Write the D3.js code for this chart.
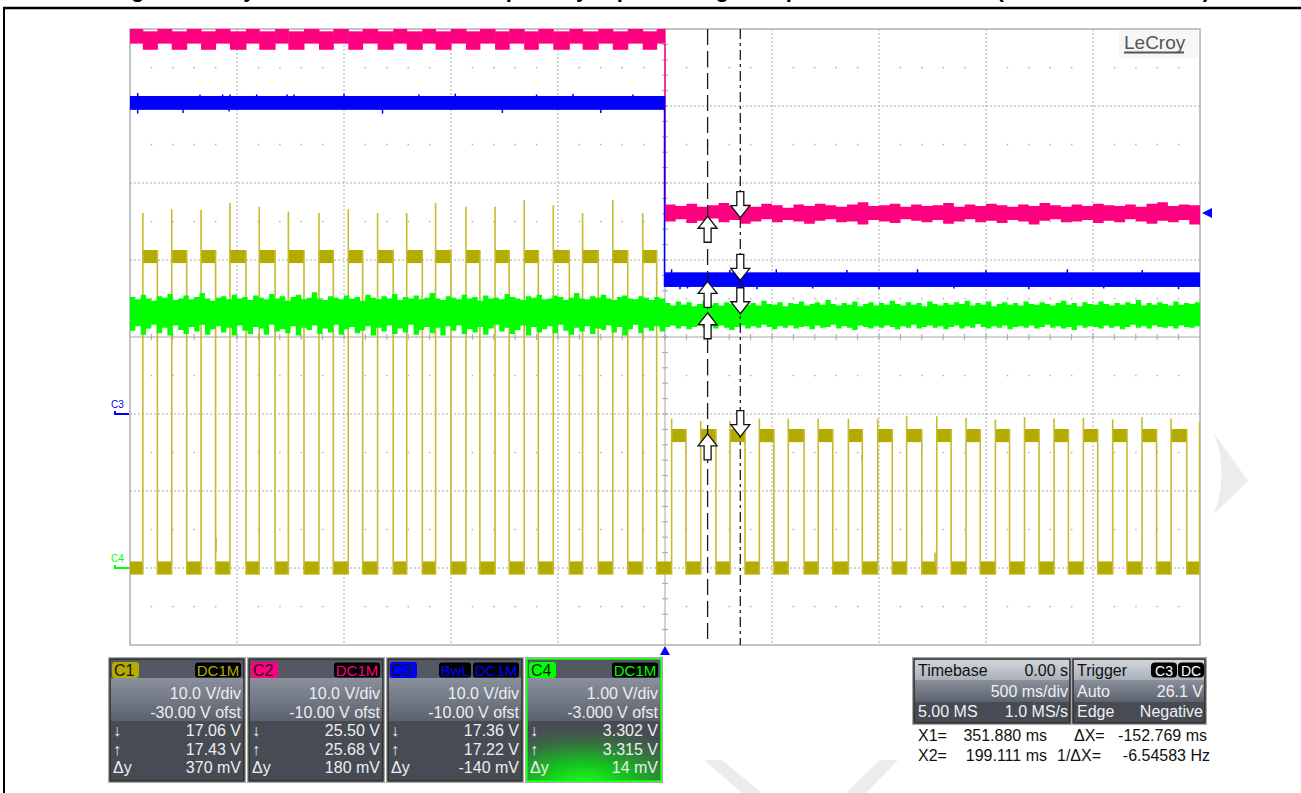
<!DOCTYPE html>
<html>
<head>
<meta charset="utf-8">
<script src="https://cdn.jsdelivr.net/npm/d3@7"></script>
<style>
  html, body { margin: 0; padding: 0; background: #ffffff; }
  svg { display: block; }
  text { font-family: "Liberation Sans", Arial, sans-serif; }
</style>
</head>
<body>
<svg id="scope" width="1301" height="793"></svg>
<script>
// ---------------- acquisition settings ----------------
const timePerDivMs = 500;
const hDivs = 10, vDivs = 8;

const chNames      = ['C1', 'C2', 'C3', 'C4'];
const chColors     = ['#b3ab00', '#ff0080', '#0000ff', '#00ff00'];
const chVoltsPerDiv = [10, 10, 10, 1];
const chOffsetV    = [-30, -10, -10, -3];
const chCoupling   = [['DC1M'], ['DC1M'], ['BwL', 'DC1M'], ['DC1M']];

// ---------------- cursor readouts ----------------
const cursorX1Ms = 351.880;
const cursorX2Ms = 199.111;
const cursorDownV = [17.06, 25.50, 17.36, 3.302];   // value at X1
const cursorUpV   = [17.43, 25.68, 17.22, 3.315];   // value at X2
const cursorDeltaMv = [370, 180, -140, 14];
const cursorDigits = [2, 2, 2, 3];

// ---------------- timebase / trigger ----------------
const timebaseRows = [['Timebase', '0.00 s'], ['', '500 ms/div'], ['5.00 MS', '1.0 MS/s']];
const triggerRows  = [['Trigger', ''], ['Auto', '26.1 V'], ['Edge', 'Negative']];
const triggerTags  = ['C3', 'DC'];
const triggerLevelV = 26.1;

// ---------------- C1: switching waveform ----------------
const c1RiseMs = [-2440, -2305, -2168, -2033, -1896, -1760, -1617, -1480, -1343, -1207, -1072, -930, -794, -658, -522, -385, -244, -104,
                  31, 167, 304, 441, 576, 716, 857, 994, 1129, 1270, 1407, 1544, 1680, 1818, 1955, 2092, 2229, 2365, 2498];
const c1FallMs = [-2372, -2235, -2100, -1958, -1822, -1687, -1550, -1413, -1270, -1134, -1000, -865, -728, -592, -447, -312, -174, -39,
                  98, 238, 374, 509, 650, 784, 922, 1062, 1200, 1337, 1473, 1610, 1748, 1885, 2022, 2159, 2297, 2438];
const c1PeakV  = [46.1, 46.6, 46.5, 47.4, 46.9, 46.3, 46.1, 46.6, 46.1, 46.1, 47.4, 46.9, 46.9, 47.8, 47.1, 46.1, 47.8, 46.1,
                  19.4, 19.1, 19.1, 19.4, 19.4, 19.4, 19.4, 19.4, 19.7, 19.7, 19.5, 19.3, 19.6, 19.4, 19.5, 19.3, 19.6, 19.4, 19.0];
const c1HighV  = [40.45, 17.2];   // before / after the input step
const c1LowV   = 0.0;
const c1BandV  = 0.85;            // half height of the ringing band
const c1Glitches = [[-2098, 3.9, 2.1], [921, 14.7, 13.9], [1262, 2.0, 0.3]];

// ---------------- C2 ----------------
const c2LeftLowState  = [48.1, 50.8];   // band while C1 is low
const c2LeftHighState = [47.3, 49.7];   // band while C1 is high
const c2RightTop = [27.2, 27.0, 27.3, 26.9, 27.1, 27.4, 27.0, 27.2, 26.9, 27.3,
                    27.1, 26.8, 27.2, 27.0, 27.3, 27.1, 26.9, 27.2, 27.5, 27.0,
                    27.1, 27.3, 26.9, 27.2, 27.0, 27.1, 27.4, 26.9, 27.2, 27.0,
                    27.3, 27.1, 26.9, 27.2, 27.0, 27.4, 27.1, 26.9, 27.2, 27.0,
                    27.3, 27.1, 27.0, 27.2, 26.9, 27.3, 27.5, 27.0, 27.2, 27.1];
const c2RightBot = [25.0, 25.3, 24.8, 25.1, 25.4, 24.9, 25.2, 24.7, 25.0, 25.3,
                    24.9, 25.2, 25.0, 24.7, 25.1, 25.3, 24.9, 25.0, 24.6, 25.2,
                    25.0, 24.8, 25.3, 25.1, 24.9, 25.2, 24.7, 25.0, 25.3, 24.9,
                    25.1, 24.8, 25.2, 25.0, 24.6, 25.1, 25.3, 24.9, 25.0, 25.2,
                    24.8, 25.1, 24.9, 25.3, 25.0, 24.7, 25.1, 24.9, 25.2, 24.6];
const c2RightStepMs = 50;

// ---------------- C3 ----------------
const c3BandLeft  = [39.5, 41.3];
const c3BandRight = [16.5, 18.4];
const c3Spikes = [[-2464, 41.7], [-2464, 39.0], [-2252, 39.1], [-2173, 41.5], [-2067, 41.5], [-2037, 39.3], [-2033, 41.5],
                  [-1908, 41.5], [-1766, 41.5], [-1734, 41.5], [-1500, 41.6], [-1320, 39.0], [-1150, 41.5], [-980, 41.6],
                  [-760, 39.1], [-600, 41.5], [-430, 41.6], [-300, 39.1], [-150, 41.5],
                  [31, 18.8], [70, 16.2], [105, 16.3], [303, 18.7], [430, 16.2], [520, 18.8], [690, 16.3], [850, 18.7],
                  [1000, 16.2], [1180, 18.8], [1350, 16.3], [1500, 18.7], [1700, 16.2], [1880, 18.8], [2050, 16.3],
                  [2230, 18.7], [2400, 16.2]];

// ---------------- C4: noise envelope, 25 ms bins ----------------
const c4StepMs = 25;
const c4Top = [
  3.52,3.49,3.55,3.50,3.47,3.53,3.51,3.56,3.48,3.50, 3.54,3.49,3.52,3.57,3.50,3.47,3.51,3.53,3.49,3.55,
  3.50,3.52,3.48,3.54,3.51,3.49,3.56,3.50,3.53,3.47, 3.52,3.55,3.49,3.51,3.58,3.50,3.48,3.53,3.51,3.49,
  3.54,3.50,3.52,3.47,3.55,3.51,3.49,3.53,3.50,3.56, 3.48,3.52,3.50,3.54,3.49,3.51,3.57,3.50,3.48,3.53,
  3.51,3.49,3.55,3.50,3.52,3.47,3.54,3.50,3.51,3.49, 3.56,3.52,3.50,3.48,3.53,3.51,3.55,3.49,3.50,3.54,
  3.52,3.48,3.51,3.57,3.50,3.49,3.53,3.51,3.55,3.50, 3.48,3.52,3.54,3.50,3.49,3.53,3.51,3.48,3.52,3.50,
  3.44,3.41,3.46,3.42,3.45,3.40,3.43,3.47,3.42,3.44, 3.41,3.45,3.43,3.39,3.46,3.42,3.44,3.41,3.47,3.43,
  3.42,3.45,3.40,3.44,3.43,3.46,3.41,3.43,3.45,3.42, 3.48,3.43,3.41,3.44,3.42,3.46,3.40,3.43,3.45,3.41,
  3.44,3.42,3.47,3.43,3.41,3.45,3.42,3.44,3.40,3.46, 3.43,3.41,3.44,3.42,3.45,3.43,3.47,3.41,3.44,3.42,
  3.46,3.40,3.43,3.45,3.42,3.44,3.41,3.46,3.43,3.42, 3.45,3.43,3.41,3.44,3.47,3.42,3.44,3.40,3.45,3.43,
  3.42,3.46,3.43,3.41,3.44,3.42,3.45,3.43,3.48,3.41, 3.44,3.42,3.45,3.43,3.41,3.46,3.42,3.44,3.43,3.45];
const c4Bot = [
  3.08,3.14,3.03,3.11,3.16,3.05,3.12,3.02,3.15,3.09, 3.04,3.13,3.07,3.16,3.03,3.10,3.14,3.06,3.12,3.02,
  3.15,3.08,3.04,3.13,3.11,3.03,3.16,3.07,3.10,3.05, 3.14,3.02,3.12,3.09,3.15,3.04,3.11,3.06,3.16,3.03,
  3.10,3.13,3.05,3.08,3.14,3.02,3.12,3.07,3.15,3.04, 3.11,3.06,3.16,3.03,3.09,3.13,3.05,3.12,3.02,3.14,
  3.08,3.15,3.04,3.10,3.06,3.13,3.03,3.11,3.16,3.07, 3.12,3.04,3.09,3.15,3.02,3.13,3.06,3.10,3.14,3.05,
  3.16,3.08,3.03,3.12,3.07,3.14,3.04,3.11,3.09,3.15, 3.06,3.13,3.02,3.10,3.16,3.05,3.12,3.08,3.14,3.07,
  3.13,3.15,3.11,3.14,3.10,3.13,3.16,3.12,3.14,3.11, 3.15,3.12,3.09,3.13,3.15,3.11,3.14,3.12,3.16,3.13,
  3.10,3.14,3.12,3.15,3.11,3.13,3.14,3.10,3.15,3.12, 3.13,3.16,3.11,3.14,3.12,3.09,3.15,3.13,3.11,3.14,
  3.12,3.15,3.13,3.10,3.14,3.12,3.16,3.11,3.13,3.15, 3.12,3.14,3.10,3.13,3.15,3.11,3.14,3.12,3.17,3.13,
  3.11,3.14,3.12,3.15,3.10,3.13,3.14,3.12,3.15,3.11, 3.13,3.16,3.12,3.14,3.11,3.13,3.09,3.15,3.12,3.14,
  3.13,3.11,3.15,3.12,3.14,3.10,3.13,3.16,3.12,3.14, 3.11,3.15,3.13,3.12,3.14,3.11,3.15,3.13,3.12,3.14];

// ---------------- layout ----------------
const grid = { left: 130, right: 1200, top: 29, bottom: 645 };
const divW = (grid.right - grid.left) / hDivs;
const divH = (grid.bottom - grid.top) / vDivs;
const tHalf = hDivs / 2 * timePerDivMs;

const svg = d3.select('#scope');
const defs = svg.append('defs');

const x = d3.scaleLinear().domain([-tHalf, tHalf]).range([grid.left, grid.right]);
const yScales = chVoltsPerDiv.map((vd, i) => {
  const centre = -chOffsetV[i];
  return d3.scaleLinear()
    .domain([centre - vDivs / 2 * vd, centre + vDivs / 2 * vd])
    .range([grid.bottom, grid.top]);
});
const [y1, y2, y3, y4] = yScales;

// gradients for the readout boxes
const gUp = defs.append('linearGradient').attr('id', 'gUpper').attr('x1', 0).attr('y1', 0).attr('x2', 0).attr('y2', 1);
gUp.append('stop').attr('offset', 0).attr('stop-color', '#8a909c');
gUp.append('stop').attr('offset', 1).attr('stop-color', '#5b616d');
const gHead = defs.append('linearGradient').attr('id', 'gHead').attr('x1', 0).attr('y1', 0).attr('x2', 0).attr('y2', 1);
gHead.append('stop').attr('offset', 0).attr('stop-color', '#d4d8de');
gHead.append('stop').attr('offset', 1).attr('stop-color', '#aab0b9');
const gGlow = defs.append('radialGradient').attr('id', 'gGlow')
  .attr('cx', 0.42).attr('cy', 1.05).attr('r', 0.95);
gGlow.append('stop').attr('offset', 0).attr('stop-color', '#1cff1c');
gGlow.append('stop').attr('offset', 0.35).attr('stop-color', '#14c41e');
gGlow.append('stop').attr('offset', 0.75).attr('stop-color', '#3a6a44');
gGlow.append('stop').attr('offset', 1).attr('stop-color', '#474b54');

defs.append('clipPath').attr('id', 'gridClip')
  .append('rect').attr('x', grid.left).attr('y', grid.top)
  .attr('width', grid.right - grid.left).attr('height', grid.bottom - grid.top);

// ---------------- page frame and caption (caption sits above the page edge) ----------------
svg.append('text')
  .attr('x', 110).attr('y', -3)
  .attr('textLength', 1100).attr('lengthAdjust', 'spacing')
  .attr('font-size', 22).attr('font-weight', 'bold').attr('fill', '#000')
  .text('Figure 11. Dynamic Behavior of Outputs by Input Voltage Step-Down Transition (VIN = 40 V to 17 V)');
svg.append('line').attr('x1', 3).attr('x2', 1301).attr('y1', 8).attr('y2', 8).attr('stroke', '#000').attr('stroke-width', 2.5);
svg.append('line').attr('x1', 4).attr('x2', 4).attr('y1', 7).attr('y2', 793).attr('stroke', '#000').attr('stroke-width', 2);

// faint watermark shapes
const wm = svg.append('g').attr('fill', '#ececec');
wm.append('path').attr('d', 'M1214,433 Q1229,473 1214,514 L1248,481 Z');
wm.append('path').attr('d', 'M704,760 L722,760 L762,793 L742,793 Z');
wm.append('path').attr('d', 'M880,760 L898,760 L866,793 L846,793 Z');

// ---------------- graticule ----------------
const gridG = svg.append('g');
gridG.append('rect').attr('x', grid.left).attr('y', grid.top)
  .attr('width', grid.right - grid.left).attr('height', grid.bottom - grid.top)
  .attr('fill', 'none').attr('stroke', '#b0b0b0').attr('stroke-width', 1.5);

d3.range(1, hDivs).filter(i => i !== hDivs / 2).forEach(i => {
  const gx = grid.left + i * divW;
  gridG.append('line').attr('x1', gx).attr('x2', gx).attr('y1', grid.top).attr('y2', grid.bottom)
    .attr('stroke', '#ababab').attr('stroke-dasharray', '2,2');
});
d3.range(1, vDivs).filter(j => j !== vDivs / 2).forEach(j => {
  const gy = grid.top + j * divH;
  gridG.append('line').attr('x1', grid.left).attr('x2', grid.right).attr('y1', gy).attr('y2', gy)
    .attr('stroke', '#ababab').attr('stroke-dasharray', '2,2');
});
// half-division dot rows
d3.range(vDivs).forEach(j => {
  const gy = grid.top + (j + 0.5) * divH;
  d3.range(1, hDivs * 5).filter(k => k % 5 !== 0).forEach(k => {
    gridG.append('rect').attr('x', grid.left + k * divW / 5 - 0.7).attr('y', gy - 0.7)
      .attr('width', 1.5).attr('height', 1.5).attr('fill', '#b4b4b4');
  });
});
// centre axes with minor ticks
const cx = grid.left + hDivs / 2 * divW, cy = grid.top + vDivs / 2 * divH;
gridG.append('line').attr('x1', grid.left).attr('x2', grid.right).attr('y1', cy).attr('y2', cy).attr('stroke', '#a6a6a6');
gridG.append('line').attr('x1', cx).attr('x2', cx).attr('y1', grid.top).attr('y2', grid.bottom).attr('stroke', '#a6a6a6');
d3.range(1, hDivs * 5).forEach(k => {
  const tx = grid.left + k * divW / 5;
  gridG.append('line').attr('x1', tx).attr('x2', tx).attr('y1', cy - 3).attr('y2', cy + 3).attr('stroke', '#a6a6a6');
});
d3.range(1, vDivs * 5).forEach(k => {
  const ty = grid.top + k * divH / 5;
  gridG.append('line').attr('x1', cx - 3).attr('x2', cx + 3).attr('y1', ty).attr('y2', ty).attr('stroke', '#a6a6a6');
});

// LeCroy logo
svg.append('rect').attr('x', 1119).attr('y', 30).attr('width', 79).attr('height', 28).attr('fill', '#f6f6f6');
svg.append('text').attr('x', 1124).attr('y', 49).attr('font-size', 19).attr('fill', '#555').text('LeCroy');
svg.append('line').attr('x1', 1124).attr('x2', 1184).attr('y1', 52.5).attr('y2', 52.5).attr('stroke', '#555').attr('stroke-width', 2);

// ---------------- traces ----------------
const traces = svg.append('g').attr('clip-path', 'url(#gridClip)');

// C1 : build low / high segments from the edge lists
const c1Events = c1RiseMs.map((t, i) => ({ t, type: 'rise', peak: c1PeakV[i] }))
  .concat(c1FallMs.map(t => ({ t, type: 'fall' })))
  .sort((a, b) => a.t - b.t);
const c1Segments = [];
let segStart = -tHalf, segHigh = false;
c1Events.forEach(ev => {
  c1Segments.push({ t0: segStart, t1: ev.t, high: segHigh });
  segStart = ev.t; segHigh = ev.type === 'rise';
});
c1Segments.push({ t0: segStart, t1: tHalf, high: segHigh });
const c1Level = (t, high) => high ? (t < 0 ? c1HighV[0] : c1HighV[1]) : c1LowV;

const gC1 = traces.append('g');
gC1.selectAll('rect.seg').data(c1Segments).join('rect')
  .attr('x', d => x(d.t0)).attr('width', d => Math.max(0.5, x(d.t1) - x(d.t0)))
  .attr('y', d => y1(c1Level(d.t0, d.high) + c1BandV))
  .attr('height', d => y1(c1Level(d.t0, d.high) - c1BandV) - y1(c1Level(d.t0, d.high) + c1BandV))
  .attr('fill', chColors[0]);
gC1.selectAll('line.edge').data(c1Events).join('line')
  .attr('x1', d => x(d.t)).attr('x2', d => x(d.t))
  .attr('y1', d => d.type === 'rise' ? y1(c1LowV - c1BandV) : y1(c1Level(d.t - 1, true) + c1BandV))
  .attr('y2', d => d.type === 'rise' ? y1(d.peak) : y1(c1LowV - c1BandV))
  .attr('stroke', '#c4bb2e').attr('stroke-width', 1.6);
gC1.selectAll('line.glitch').data(c1Glitches).join('line')
  .attr('x1', d => x(d[0])).attr('x2', d => x(d[0]))
  .attr('y1', d => y1(d[1])).attr('y2', d => y1(d[2]))
  .attr('stroke', '#c4bb2e').attr('stroke-width', 1.6);

// C2
const gC2 = traces.append('g').attr('fill', chColors[1]);
const c2LeftSegs = c1Segments.filter(s => s.t0 < 0).map(s => ({ t0: s.t0, t1: Math.min(s.t1, 0), band: s.high ? c2LeftHighState : c2LeftLowState }));
gC2.selectAll('rect').data(c2LeftSegs).join('rect')
  .attr('x', d => x(d.t0)).attr('width', d => x(d.t1) - x(d.t0) + 0.5)
  .attr('y', d => y2(d.band[1])).attr('height', d => y2(d.band[0]) - y2(d.band[1]));
const c2RightData = c2RightTop.map((v, i) => ({ t: i * c2RightStepMs, hi: v, lo: c2RightBot[i] }));
c2RightData.push({ t: tHalf, hi: c2RightTop[c2RightTop.length - 1], lo: c2RightBot[c2RightBot.length - 1] });
gC2.append('path').datum(c2RightData)
  .attr('d', d3.area().curve(d3.curveStepAfter).x(d => x(d.t)).y0(d => y2(d.lo)).y1(d => y2(d.hi)));
gC2.append('line').attr('x1', x(0)).attr('x2', x(0)).attr('y1', y2(c2LeftLowState[0])).attr('y2', y2(c2RightTop[0]))
  .attr('stroke', chColors[1]).attr('stroke-width', 1.5);

// C3
const gC3 = traces.append('g');
gC3.append('rect').attr('x', x(-tHalf)).attr('width', x(0) - x(-tHalf))
  .attr('y', y3(c3BandLeft[1])).attr('height', y3(c3BandLeft[0]) - y3(c3BandLeft[1])).attr('fill', chColors[2]);
gC3.append('rect').attr('x', x(0)).attr('width', x(tHalf) - x(0))
  .attr('y', y3(c3BandRight[1])).attr('height', y3(c3BandRight[0]) - y3(c3BandRight[1])).attr('fill', chColors[2]);
gC3.append('line').attr('x1', x(0) - 0.5).attr('x2', x(0) - 0.5)
  .attr('y1', y3(c3BandLeft[1])).attr('y2', y3(c3BandRight[0]))
  .attr('stroke', chColors[2]).attr('stroke-width', 1.5);
gC3.selectAll('line.sp').data(c3Spikes).join('line')
  .attr('x1', d => x(d[0])).attr('x2', d => x(d[0]))
  .attr('y1', d => {
    const band = d[0] < 0 ? c3BandLeft : c3BandRight;
    return y3((band[0] + band[1]) / 2);
  })
  .attr('y2', d => y3(d[1]))
  .attr('stroke', chColors[2]).attr('stroke-width', 1.5);

// C4
const c4Data = c4Top.map((v, i) => ({ t: -tHalf + i * c4StepMs, hi: v, lo: c4Bot[i] }));
c4Data.push({ t: tHalf, hi: c4Top[c4Top.length - 1], lo: c4Bot[c4Bot.length - 1] });
traces.append('path').datum(c4Data)
  .attr('d', d3.area().curve(d3.curveStepAfter).x(d => x(d.t)).y0(d => y4(d.lo)).y1(d => y4(d.hi)))
  .attr('fill', chColors[3]);

// ---------------- cursors ----------------
const curG = svg.append('g');
curG.append('line').attr('x1', x(cursorX2Ms)).attr('x2', x(cursorX2Ms)).attr('y1', grid.top).attr('y2', grid.bottom)
  .attr('stroke', '#1a1a1a').attr('stroke-width', 1.3).attr('stroke-dasharray', '16,6');
curG.append('line').attr('x1', x(cursorX1Ms)).attr('x2', x(cursorX1Ms)).attr('y1', grid.top).attr('y2', grid.bottom)
  .attr('stroke', '#1a1a1a').attr('stroke-width', 1.3).attr('stroke-dasharray', '10,4,3,4');

function arrowPath(ax, tipY, dir) {
  // dir = 1: arrow points up (body below the tip); dir = -1: points down
  const s = dir;
  const p = [[0, 0], [9.5, 12], [3.5, 12], [3.5, 26], [-3.5, 26], [-3.5, 12], [-9.5, 12]];
  return 'M' + p.map(q => [ax + q[0], tipY + s * q[1]].join(',')).join('L') + 'Z';
}
chNames.forEach((n, i) => {
  curG.append('path').attr('d', arrowPath(x(cursorX2Ms), yScales[i](cursorUpV[i]), 1))
    .attr('fill', '#fff').attr('stroke', '#111').attr('stroke-width', 1.3);
  curG.append('path').attr('d', arrowPath(x(cursorX1Ms), yScales[i](cursorDownV[i]), -1))
    .attr('fill', '#fff').attr('stroke', '#111').attr('stroke-width', 1.3);
});

// ---------------- markers ----------------
const mk = svg.append('g');
// trigger position (time) and trigger level (C3)
mk.append('path').attr('d', `M${x(0)},${grid.bottom + 1} L${x(0) + 5},${grid.bottom + 10} L${x(0) - 5},${grid.bottom + 10} Z`).attr('fill', chColors[2]);
const tly = y3(triggerLevelV);
mk.append('path').attr('d', `M${grid.right + 2},${tly} L${grid.right + 12},${tly - 5} L${grid.right + 12},${tly + 5} Z`).attr('fill', chColors[2]);
// ground references for C3 and C4
[2, 3].forEach(i => {
  const gy = yScales[i](0);
  mk.append('text').attr('x', 111).attr('y', gy - 6).attr('font-size', 10).attr('fill', chColors[i]).text(chNames[i]);
  mk.append('path').attr('d', `M115,${gy - 3} L115,${gy} L129,${gy}`).attr('fill', 'none')
    .attr('stroke', chColors[i]).attr('stroke-width', 2);
});

// ---------------- channel readout boxes ----------------
const boxW = 134, boxH = 122, boxY = 659, boxGap = 5, boxX0 = 110;
const pillW = { 'DC1M': 46, 'BwL': 32 };
const fmtV = (v, d) => v.toFixed(d);
chNames.forEach((name, i) => {
  const bx = boxX0 + i * (boxW + boxGap);
  const g = svg.append('g').attr('transform', `translate(${bx},${boxY})`);
  g.append('rect').attr('x', -1.5).attr('y', -1.5).attr('width', boxW + 3).attr('height', boxH + 3)
    .attr('fill', 'none').attr('stroke', '#a8a8a8');
  g.append('rect').attr('width', boxW).attr('height', 19).attr('fill', '#535862');
  g.append('rect').attr('y', 19).attr('width', boxW).attr('height', 43).attr('fill', 'url(#gUpper)');
  g.append('rect').attr('y', 62).attr('width', boxW).attr('height', boxH - 62).attr('fill', i === 3 ? 'url(#gGlow)' : '#474b54');
  g.append('rect').attr('width', boxW).attr('height', boxH).attr('fill', 'none')
    .attr('stroke', i === 3 ? '#00ff00' : '#2c2c2c').attr('stroke-width', 1.6);

  g.append('rect').attr('x', 2).attr('y', 3).attr('width', 27).attr('height', 16).attr('rx', 3).attr('fill', chColors[i]);
  g.append('text').attr('x', 4).attr('y', 17).attr('font-size', 16).attr('fill', '#151515').text(name);

  let right = boxW - 3;
  chCoupling[i].slice().reverse().forEach(c => {
    const w = pillW[c];
    g.append('rect').attr('x', right - w).attr('y', 3.5).attr('width', w).attr('height', 15).attr('rx', 3).attr('fill', '#000');
    g.append('text').attr('x', right - w / 2).attr('y', 16.5).attr('text-anchor', 'middle')
      .attr('font-size', 15).attr('fill', chColors[i]).text(c);
    right -= w + 2;
  });

  const vd = chVoltsPerDiv[i], of = chOffsetV[i];
  const rows = [
    ['', fmtV(vd, vd >= 10 ? 1 : 2) + ' V/div', 40],
    ['', fmtV(of, Math.abs(of) >= 10 ? 2 : 3) + ' V ofst', 59],
    ['\u2193', fmtV(cursorDownV[i], cursorDigits[i]) + ' V', 77],
    ['\u2191', fmtV(cursorUpV[i], cursorDigits[i]) + ' V', 96],
    ['\u0394y', cursorDeltaMv[i] + ' mV', 114]
  ];
  rows.forEach(r => {
    if (r[0]) g.append('text').attr('x', 3).attr('y', r[2]).attr('font-size', 16).attr('fill', '#eeeeee').text(r[0]);
    g.append('text').attr('x', boxW - 3).attr('y', r[2]).attr('text-anchor', 'end')
      .attr('font-size', 16).attr('fill', '#eeeeee').text(r[1]);
  });
});

// ---------------- timebase & trigger boxes ----------------
function statusBox(bx, bw, rows, tags) {
  const g = svg.append('g').attr('transform', `translate(${bx},${boxY})`);
  g.append('rect').attr('x', -1.5).attr('y', -1.5).attr('width', bw + 3).attr('height', 67).attr('fill', 'none').attr('stroke', '#a8a8a8');
  g.append('rect').attr('width', bw).attr('height', 21).attr('fill', 'url(#gHead)');
  g.append('rect').attr('y', 21).attr('width', bw).attr('height', 22).attr('fill', 'url(#gUpper)');
  g.append('rect').attr('y', 43).attr('width', bw).attr('height', 21).attr('fill', '#474b54');
  g.append('rect').attr('width', bw).attr('height', 64).attr('fill', 'none').attr('stroke', '#2c2c2c').attr('stroke-width', 1.6);
  const base = [17, 38, 58];
  rows.forEach((r, k) => {
    const col = k === 0 ? '#111' : '#f0f0f0';
    if (r[0]) g.append('text').attr('x', 4).attr('y', base[k]).attr('font-size', 16).attr('fill', col).text(r[0]);
    if (r[1]) g.append('text').attr('x', bw - 2).attr('y', base[k]).attr('text-anchor', 'end').attr('font-size', 16).attr('fill', col).text(r[1]);
  });
  if (tags) {
    let right = bw - 1;
    tags.slice().reverse().forEach(t => {
      const w = 26;
      g.append('rect').attr('x', right - w).attr('y', 3.5).attr('width', w).attr('height', 15).attr('rx', 4).attr('fill', '#000');
      g.append('text').attr('x', right - w / 2).attr('y', 16.5).attr('text-anchor', 'middle').attr('font-size', 14)
        .attr('fill', '#fff').text(t);
      right -= w + 1;
    });
  }
}
statusBox(914, 156, timebaseRows, null);
statusBox(1073, 132, triggerRows, triggerTags);

// cursor time readouts
const dxMs = cursorX2Ms - cursorX1Ms;
const inv = 1 / (dxMs / 1000);
const ro = svg.append('g').attr('font-size', 16).attr('fill', '#111');
ro.append('text').attr('x', 918).attr('y', 741).text('X1=');
ro.append('text').attr('x', 1047).attr('y', 741).attr('text-anchor', 'end').text(cursorX1Ms.toFixed(3) + ' ms');
ro.append('text').attr('x', 1074).attr('y', 741).text('\u0394X=');
ro.append('text').attr('x', 1207).attr('y', 741).attr('text-anchor', 'end').text(dxMs.toFixed(3) + ' ms');
ro.append('text').attr('x', 918).attr('y', 761).text('X2=');
ro.append('text').attr('x', 1047).attr('y', 761).attr('text-anchor', 'end').text(cursorX2Ms.toFixed(3) + ' ms');
ro.append('text').attr('x', 1057).attr('y', 761).text('1/\u0394X=');
ro.append('text').attr('x', 1210).attr('y', 761).attr('text-anchor', 'end').text(inv.toFixed(5) + ' Hz');
</script>
</body>
</html>
